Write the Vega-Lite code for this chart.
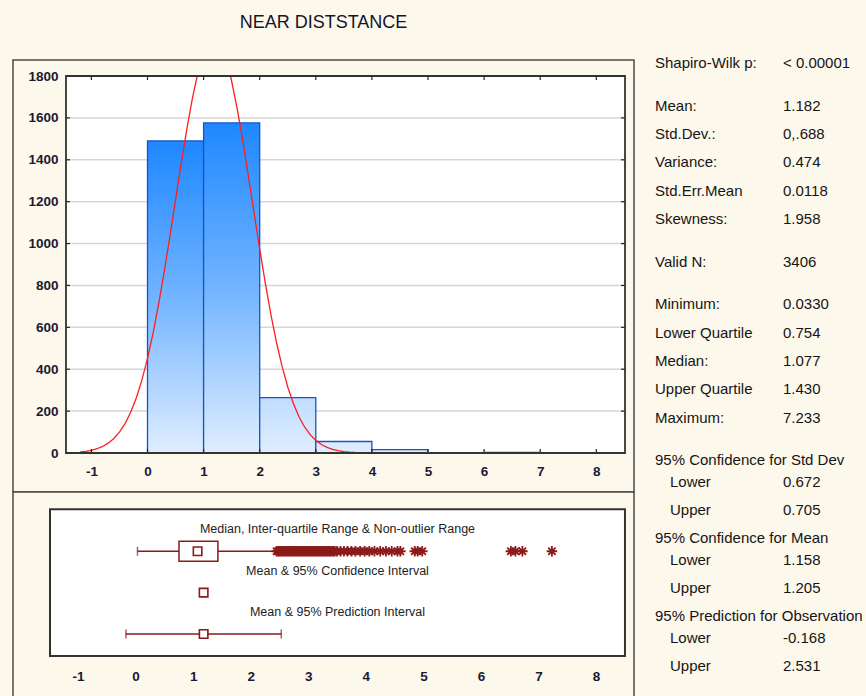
{
  "$schema": "https://vega.github.io/schema/vega-lite/v6.json",
  "background": "#FDF8EC",
  "padding": {"left": 12, "top": 13, "right": 0, "bottom": 0},
  "config": {
    "view": {"stroke": null},
    "font": "Liberation Sans",
    "axis": {"domain": false, "ticks": false, "grid": false, "labelFontSize": 13.5, "labelFontWeight": "bold", "labelColor": "#1a1a33", "labelFont": "Liberation Sans", "labelFlush": false, "labelOverlap": false, "labelExpr": "'' + datum.value"}
  },
  "bounds": "flush",
  "columns": 2,
  "spacing": {"row": 0, "column": 11},
  "concat": [
    {
      "width": 621,
      "height": 432,
      "view": {"stroke": "#4a4a4a", "strokeWidth": 1.5, "fill": "#FDF8EC"},
      "title": {"text": "NEAR DISTSTANCE", "fontSize": 18, "fontWeight": "normal", "font": "Liberation Sans", "color": "#15152a", "anchor": "middle", "baseline": "alphabetic", "offset": 14},
      "layer": [
        {
          "data": {"values": [{}]},
          "mark": {"type": "rect", "fill": "white"},
          "encoding": {
            "x": {"datum": -1.453, "type": "quantitative", "scale": {"domain": [-2.3975, 8.672], "nice": false, "zero": false}, "axis": {"values": [-1, 0, 1, 2, 3, 4, 5, 6, 7, 8], "offset": -39, "labelPadding": 11, "title": null}},
            "x2": {"datum": 8.512},
            "y": {"datum": 0, "type": "quantitative", "scale": {"domain": [-186.2, 1876.4], "nice": false, "zero": false}, "axis": {"values": [0, 200, 400, 600, 800, 1000, 1200, 1400, 1600, 1800], "offset": -53, "labelPadding": 8, "title": null}},
            "y2": {"datum": 1800}
          }
        },
        {
          "data": {"values": [{"g": 200}, {"g": 400}, {"g": 600}, {"g": 800}, {"g": 1000}, {"g": 1200}, {"g": 1400}, {"g": 1600}]},
          "mark": {"type": "rule", "color": "#d6d6d6", "strokeWidth": 1.5},
          "encoding": {
            "y": {"field": "g", "type": "quantitative", "scale": {"domain": [-186.2, 1876.4], "nice": false, "zero": false}, "axis": {"values": [0, 200, 400, 600, 800, 1000, 1200, 1400, 1600, 1800], "offset": -53, "labelPadding": 8, "title": null}},
            "x": {"datum": -1.453, "type": "quantitative", "scale": {"domain": [-2.3975, 8.672], "nice": false, "zero": false}, "axis": {"values": [-1, 0, 1, 2, 3, 4, 5, 6, 7, 8], "offset": -39, "labelPadding": 11, "title": null}},
            "x2": {"datum": 8.512}
          }
        },
        {
          "data": {"name": "bins", "values": [
            {"lo": 0, "hi": 1, "count": 1490},
            {"lo": 1, "hi": 2, "count": 1576},
            {"lo": 2, "hi": 3, "count": 264},
            {"lo": 3, "hi": 4, "count": 55},
            {"lo": 4, "hi": 5, "count": 16},
            {"lo": 6, "hi": 7, "count": 3},
            {"lo": 7, "hi": 8, "count": 1}
          ]},
          "transform": [{"filter": "datum.count > 1000"}],
          "mark": {"type": "rect", "stroke": "#1454C8", "strokeWidth": 1.3,
            "fill": {"gradient": "linear", "x1": 0, "y1": 0, "x2": 0, "y2": 1, "stops": [{"offset": 0, "color": "#1E88FF"}, {"offset": 0.5, "color": "#72B4FF"}, {"offset": 1, "color": "#E0EEFF"}]}},
          "encoding": {
            "x": {"field": "lo", "type": "quantitative", "scale": {"domain": [-2.3975, 8.672], "nice": false, "zero": false}, "axis": {"values": [-1, 0, 1, 2, 3, 4, 5, 6, 7, 8], "offset": -39, "labelPadding": 11, "title": null}},
            "x2": {"field": "hi"},
            "y": {"field": "count", "type": "quantitative", "scale": {"domain": [-186.2, 1876.4], "nice": false, "zero": false}, "axis": {"values": [0, 200, 400, 600, 800, 1000, 1200, 1400, 1600, 1800], "offset": -53, "labelPadding": 8, "title": null}},
            "y2": {"datum": 0}
          }
        },
        {
          "data": {"name": "bins"},
          "transform": [{"filter": "datum.count > 100 && datum.count <= 1000"}],
          "mark": {"type": "rect", "stroke": "#1454C8", "strokeWidth": 1.3,
            "fill": {"gradient": "linear", "x1": 0, "y1": 0, "x2": 0, "y2": 1, "stops": [{"offset": 0, "color": "#C0DDFF"}, {"offset": 1, "color": "#E0EEFF"}]}},
          "encoding": {
            "x": {"field": "lo", "type": "quantitative", "scale": {"domain": [-2.3975, 8.672], "nice": false, "zero": false}, "axis": {"values": [-1, 0, 1, 2, 3, 4, 5, 6, 7, 8], "offset": -39, "labelPadding": 11, "title": null}},
            "x2": {"field": "hi"},
            "y": {"field": "count", "type": "quantitative", "scale": {"domain": [-186.2, 1876.4], "nice": false, "zero": false}, "axis": {"values": [0, 200, 400, 600, 800, 1000, 1200, 1400, 1600, 1800], "offset": -53, "labelPadding": 8, "title": null}},
            "y2": {"datum": 0}
          }
        },
        {
          "data": {"name": "bins"},
          "transform": [{"filter": "datum.count <= 100"}],
          "mark": {"type": "rect", "stroke": "#1454C8", "strokeWidth": 1.3, "fill": "#DCEBFF"},
          "encoding": {
            "x": {"field": "lo", "type": "quantitative", "scale": {"domain": [-2.3975, 8.672], "nice": false, "zero": false}, "axis": {"values": [-1, 0, 1, 2, 3, 4, 5, 6, 7, 8], "offset": -39, "labelPadding": 11, "title": null}},
            "x2": {"field": "hi"},
            "y": {"field": "count", "type": "quantitative", "scale": {"domain": [-186.2, 1876.4], "nice": false, "zero": false}, "axis": {"values": [0, 200, 400, 600, 800, 1000, 1200, 1400, 1600, 1800], "offset": -53, "labelPadding": 8, "title": null}},
            "y2": {"datum": 0}
          }
        },
        {
          "data": {"values": [
            {"seg": "a", "x": -1.2, "y": 4.9}, {"seg": "a", "x": -1.1, "y": 8.1}, {"seg": "a", "x": -1.0, "y": 12.9}, {"seg": "a", "x": -0.9, "y": 20.3},
            {"seg": "a", "x": -0.8, "y": 31.2}, {"seg": "a", "x": -0.7, "y": 46.9}, {"seg": "a", "x": -0.6, "y": 69.0}, {"seg": "a", "x": -0.5, "y": 99.5},
            {"seg": "a", "x": -0.4, "y": 140.4}, {"seg": "a", "x": -0.3, "y": 194.1}, {"seg": "a", "x": -0.2, "y": 262.7}, {"seg": "a", "x": -0.1, "y": 348.0},
            {"seg": "a", "x": 0.0, "y": 451.5}, {"seg": "a", "x": 0.1, "y": 573.4}, {"seg": "a", "x": 0.2, "y": 713.0}, {"seg": "a", "x": 0.3, "y": 868.4},
            {"seg": "a", "x": 0.4, "y": 1035.3}, {"seg": "a", "x": 0.5, "y": 1208.3}, {"seg": "a", "x": 0.6, "y": 1380.9}, {"seg": "a", "x": 0.7, "y": 1545.2},
            {"seg": "a", "x": 0.8, "y": 1693.0}, {"seg": "a", "x": 0.886, "y": 1800},
            {"seg": "b", "x": 1.478, "y": 1800}, {"seg": "b", "x": 1.5, "y": 1774.9}, {"seg": "b", "x": 1.6, "y": 1642.0}, {"seg": "b", "x": 1.7, "y": 1487.6},
            {"seg": "b", "x": 1.8, "y": 1319.3}, {"seg": "b", "x": 1.9, "y": 1145.7}, {"seg": "b", "x": 2.0, "y": 974.1}, {"seg": "b", "x": 2.1, "y": 810.9},
            {"seg": "b", "x": 2.2, "y": 660.8}, {"seg": "b", "x": 2.3, "y": 527.5}, {"seg": "b", "x": 2.4, "y": 412.2}, {"seg": "b", "x": 2.5, "y": 315.2},
            {"seg": "b", "x": 2.6, "y": 236.0}, {"seg": "b", "x": 2.7, "y": 173.1}, {"seg": "b", "x": 2.8, "y": 124.4}, {"seg": "b", "x": 2.9, "y": 87.4},
            {"seg": "b", "x": 3.0, "y": 60.2}, {"seg": "b", "x": 3.1, "y": 40.5}, {"seg": "b", "x": 3.2, "y": 26.8}, {"seg": "b", "x": 3.3, "y": 17.3},
            {"seg": "b", "x": 3.4, "y": 10.9}, {"seg": "b", "x": 3.5, "y": 6.8}, {"seg": "b", "x": 3.6, "y": 4.1}, {"seg": "b", "x": 3.7, "y": 2.4}
          ]},
          "mark": {"type": "line", "color": "#FF1E1E", "strokeWidth": 1.3},
          "encoding": {
            "x": {"field": "x", "type": "quantitative", "scale": {"domain": [-2.3975, 8.672], "nice": false, "zero": false}, "axis": {"values": [-1, 0, 1, 2, 3, 4, 5, 6, 7, 8], "offset": -39, "labelPadding": 11, "title": null}},
            "y": {"field": "y", "type": "quantitative", "scale": {"domain": [-186.2, 1876.4], "nice": false, "zero": false}, "axis": {"values": [0, 200, 400, 600, 800, 1000, 1200, 1400, 1600, 1800], "offset": -53, "labelPadding": 8, "title": null}},
            "detail": {"field": "seg"}
          }
        },
        {
          "data": {"name": "xt", "values": [{"t": -1}, {"t": 0}, {"t": 1}, {"t": 2}, {"t": 3}, {"t": 4}, {"t": 5}, {"t": 6}, {"t": 7}, {"t": 8}]},
          "mark": {"type": "rule", "color": "#222222", "strokeWidth": 1.2},
          "encoding": {
            "x": {"field": "t", "type": "quantitative", "scale": {"domain": [-2.3975, 8.672], "nice": false, "zero": false}, "axis": {"values": [-1, 0, 1, 2, 3, 4, 5, 6, 7, 8], "offset": -39, "labelPadding": 11, "title": null}},
            "y": {"datum": 0, "type": "quantitative", "scale": {"domain": [-186.2, 1876.4], "nice": false, "zero": false}, "axis": {"values": [0, 200, 400, 600, 800, 1000, 1200, 1400, 1600, 1800], "offset": -53, "labelPadding": 8, "title": null}},
            "y2": {"datum": 19}
          }
        },
        {
          "data": {"name": "xt"},
          "mark": {"type": "rule", "color": "#222222", "strokeWidth": 1.2},
          "encoding": {
            "x": {"field": "t", "type": "quantitative", "scale": {"domain": [-2.3975, 8.672], "nice": false, "zero": false}, "axis": {"values": [-1, 0, 1, 2, 3, 4, 5, 6, 7, 8], "offset": -39, "labelPadding": 11, "title": null}},
            "y": {"datum": 1781, "type": "quantitative", "scale": {"domain": [-186.2, 1876.4], "nice": false, "zero": false}, "axis": {"values": [0, 200, 400, 600, 800, 1000, 1200, 1400, 1600, 1800], "offset": -53, "labelPadding": 8, "title": null}},
            "y2": {"datum": 1800}
          }
        },
        {
          "data": {"name": "yt", "values": [{"g": 200}, {"g": 400}, {"g": 600}, {"g": 800}, {"g": 1000}, {"g": 1200}, {"g": 1400}, {"g": 1600}]},
          "mark": {"type": "rule", "color": "#222222", "strokeWidth": 1.2},
          "encoding": {
            "y": {"field": "g", "type": "quantitative", "scale": {"domain": [-186.2, 1876.4], "nice": false, "zero": false}, "axis": {"values": [0, 200, 400, 600, 800, 1000, 1200, 1400, 1600, 1800], "offset": -53, "labelPadding": 8, "title": null}},
            "x": {"datum": -1.453, "type": "quantitative", "scale": {"domain": [-2.3975, 8.672], "nice": false, "zero": false}, "axis": {"values": [-1, 0, 1, 2, 3, 4, 5, 6, 7, 8], "offset": -39, "labelPadding": 11, "title": null}},
            "x2": {"datum": -1.382}
          }
        },
        {
          "data": {"name": "yt"},
          "mark": {"type": "rule", "color": "#222222", "strokeWidth": 1.2},
          "encoding": {
            "y": {"field": "g", "type": "quantitative", "scale": {"domain": [-186.2, 1876.4], "nice": false, "zero": false}, "axis": {"values": [0, 200, 400, 600, 800, 1000, 1200, 1400, 1600, 1800], "offset": -53, "labelPadding": 8, "title": null}},
            "x": {"datum": 8.441, "type": "quantitative", "scale": {"domain": [-2.3975, 8.672], "nice": false, "zero": false}, "axis": {"values": [-1, 0, 1, 2, 3, 4, 5, 6, 7, 8], "offset": -39, "labelPadding": 11, "title": null}},
            "x2": {"datum": 8.512}
          }
        },
        {
          "data": {"values": [{}]},
          "mark": {"type": "rect", "filled": false, "color": "#333333", "strokeWidth": 1.8},
          "encoding": {
            "x": {"datum": -1.453, "type": "quantitative", "scale": {"domain": [-2.3975, 8.672], "nice": false, "zero": false}, "axis": {"values": [-1, 0, 1, 2, 3, 4, 5, 6, 7, 8], "offset": -39, "labelPadding": 11, "title": null}},
            "x2": {"datum": 8.512},
            "y": {"datum": 0, "type": "quantitative", "scale": {"domain": [-186.2, 1876.4], "nice": false, "zero": false}, "axis": {"values": [0, 200, 400, 600, 800, 1000, 1200, 1400, 1600, 1800], "offset": -53, "labelPadding": 8, "title": null}},
            "y2": {"datum": 1800}
          }
        }
      ]
    },
    {
      "width": 221,
      "height": 432,
      "view": {"stroke": null, "fill": null},
      "data": {"values": [
        {"label": "Shapiro-Wilk p:", "value": "< 0.00001", "line": 0, "indent": false},
        {"label": "Mean:", "value": "1.182", "line": 3, "indent": false},
        {"label": "Std.Dev.:", "value": "0,.688", "line": 5, "indent": false},
        {"label": "Variance:", "value": "0.474", "line": 7, "indent": false},
        {"label": "Std.Err.Mean", "value": "0.0118", "line": 9, "indent": false},
        {"label": "Skewness:", "value": "1.958", "line": 11, "indent": false},
        {"label": "Valid N:", "value": "3406", "line": 14, "indent": false},
        {"label": "Minimum:", "value": "0.0330", "line": 17, "indent": false},
        {"label": "Lower Quartile", "value": "0.754", "line": 19, "indent": false},
        {"label": "Median:", "value": "1.077", "line": 21, "indent": false},
        {"label": "Upper Quartile", "value": "1.430", "line": 23, "indent": false},
        {"label": "Maximum:", "value": "7.233", "line": 25, "indent": false},
        {"label": "95% Confidence for Std Dev", "value": "", "line": 28, "indent": false},
        {"label": "Lower", "value": "0.672", "line": 29.5, "indent": true},
        {"label": "Upper", "value": "0.705", "line": 31.5, "indent": true},
        {"label": "95% Confidence for Mean", "value": "", "line": 33.5, "indent": false},
        {"label": "Lower", "value": "1.158", "line": 35, "indent": true},
        {"label": "Upper", "value": "1.205", "line": 37, "indent": true},
        {"label": "95% Prediction for Observation", "value": "", "line": 39, "indent": false},
        {"label": "Lower", "value": "-0.168", "line": 40.5, "indent": true},
        {"label": "Upper", "value": "2.531", "line": 42.5, "indent": true}
      ]},
      "layer": [
        {
          "transform": [{"filter": "!datum.indent"}],
          "mark": {"type": "text", "align": "left", "baseline": "middle", "fontSize": 15, "font": "Liberation Sans", "color": "#151515"},
          "encoding": {
            "x": {"datum": 10, "type": "quantitative", "scale": {"domain": [0, 221], "nice": false, "zero": false}, "axis": null},
            "y": {"field": "line", "type": "quantitative", "scale": {"domain": [-0.211, 30.233], "reverse": true, "nice": false, "zero": false}, "axis": null},
            "text": {"field": "label"}
          }
        },
        {
          "transform": [{"filter": "datum.indent"}],
          "mark": {"type": "text", "align": "left", "baseline": "middle", "fontSize": 15, "font": "Liberation Sans", "color": "#151515"},
          "encoding": {
            "x": {"datum": 25, "type": "quantitative", "scale": {"domain": [0, 221], "nice": false, "zero": false}, "axis": null},
            "y": {"field": "line", "type": "quantitative", "scale": {"domain": [-0.211, 30.233], "reverse": true, "nice": false, "zero": false}, "axis": null},
            "text": {"field": "label"}
          }
        },
        {
          "mark": {"type": "text", "align": "left", "baseline": "middle", "fontSize": 15, "font": "Liberation Sans", "color": "#151515"},
          "encoding": {
            "x": {"datum": 138, "type": "quantitative", "scale": {"domain": [0, 221], "nice": false, "zero": false}, "axis": null},
            "y": {"field": "line", "type": "quantitative", "scale": {"domain": [-0.211, 30.233], "reverse": true, "nice": false, "zero": false}, "axis": null},
            "text": {"field": "value"}
          }
        }
      ]
    },
    {
      "width": 621,
      "height": 206,
      "view": {"stroke": "#4a4a4a", "strokeWidth": 1.5, "fill": "#FDF8EC"},
      "layer": [
        {
          "data": {"values": [{}]},
          "mark": {"type": "rect", "fill": "white"},
          "encoding": {
            "x": {"datum": -1.487, "type": "quantitative", "scale": {"domain": [-2.13, 8.659], "nice": false, "zero": false}, "axis": {"values": [-1, 0, 1, 2, 3, 4, 5, 6, 7, 8], "offset": -39, "labelPadding": 10, "title": null}},
            "x2": {"datum": 8.502},
            "y": {"datum": 0.4713, "type": "quantitative", "scale": {"domain": [-0.4253, 4.3103], "nice": false, "zero": false}, "axis": null},
            "y2": {"datum": 4.0115}
          }
        },
        {
          "data": {"name": "summary", "values": [
            {"row": 3, "title": "Median, Inter-quartile Range & Non-outlier Range", "center": 1.077, "lo": 0.033, "hi": 2.444, "boxLo": 0.754, "boxHi": 1.43},
            {"row": 2, "title": "Mean & 95% Confidence Interval", "center": 1.182, "lo": 1.158, "hi": 1.205},
            {"row": 1, "title": "Mean & 95% Prediction Interval", "center": 1.182, "lo": -0.168, "hi": 2.531}
          ]},
          "mark": {"type": "rule", "color": "#8B1A1A", "strokeWidth": 1.5},
          "encoding": {
            "x": {"field": "lo", "type": "quantitative", "scale": {"domain": [-2.13, 8.659], "nice": false, "zero": false}, "axis": {"values": [-1, 0, 1, 2, 3, 4, 5, 6, 7, 8], "offset": -39, "labelPadding": 10, "title": null}},
            "x2": {"field": "hi"},
            "y": {"field": "row", "type": "quantitative", "scale": {"domain": [-0.4253, 4.3103], "nice": false, "zero": false}, "axis": null}
          }
        },
        {
          "data": {"name": "summary"},
          "mark": {"type": "tick", "orient": "vertical", "color": "#8B1A1A", "size": 9, "thickness": 1.5},
          "encoding": {
            "x": {"field": "lo", "type": "quantitative", "scale": {"domain": [-2.13, 8.659], "nice": false, "zero": false}, "axis": {"values": [-1, 0, 1, 2, 3, 4, 5, 6, 7, 8], "offset": -39, "labelPadding": 10, "title": null}},
            "y": {"field": "row", "type": "quantitative", "scale": {"domain": [-0.4253, 4.3103], "nice": false, "zero": false}, "axis": null}
          }
        },
        {
          "data": {"name": "summary"},
          "mark": {"type": "tick", "orient": "vertical", "color": "#8B1A1A", "size": 9, "thickness": 1.5},
          "encoding": {
            "x": {"field": "hi", "type": "quantitative", "scale": {"domain": [-2.13, 8.659], "nice": false, "zero": false}, "axis": {"values": [-1, 0, 1, 2, 3, 4, 5, 6, 7, 8], "offset": -39, "labelPadding": 10, "title": null}},
            "y": {"field": "row", "type": "quantitative", "scale": {"domain": [-0.4253, 4.3103], "nice": false, "zero": false}, "axis": null}
          }
        },
        {
          "data": {"name": "summary"},
          "transform": [{"filter": "isValid(datum.boxLo)"}],
          "mark": {"type": "bar", "orient": "horizontal", "size": 20, "fill": "white", "stroke": "#8B1A1A", "strokeWidth": 1.5},
          "encoding": {
            "x": {"field": "boxLo", "type": "quantitative", "scale": {"domain": [-2.13, 8.659], "nice": false, "zero": false}, "axis": {"values": [-1, 0, 1, 2, 3, 4, 5, 6, 7, 8], "offset": -39, "labelPadding": 10, "title": null}},
            "x2": {"field": "boxHi"},
            "y": {"field": "row", "type": "quantitative", "scale": {"domain": [-0.4253, 4.3103], "nice": false, "zero": false}, "axis": null}
          }
        },
        {
          "data": {"name": "summary"},
          "mark": {"type": "point", "shape": "square", "filled": true, "fill": "white", "stroke": "#8B1A1A", "strokeWidth": 1.6, "size": 72, "opacity": 1},
          "encoding": {
            "x": {"field": "center", "type": "quantitative", "scale": {"domain": [-2.13, 8.659], "nice": false, "zero": false}, "axis": {"values": [-1, 0, 1, 2, 3, 4, 5, 6, 7, 8], "offset": -39, "labelPadding": 10, "title": null}},
            "y": {"field": "row", "type": "quantitative", "scale": {"domain": [-0.4253, 4.3103], "nice": false, "zero": false}, "axis": null}
          }
        },
        {
          "data": {"values": [
            {"v": 2.45}, {"v": 2.475}, {"v": 2.5}, {"v": 2.525}, {"v": 2.55}, {"v": 2.575}, {"v": 2.6}, {"v": 2.625}, {"v": 2.65}, {"v": 2.675},
            {"v": 2.7}, {"v": 2.725}, {"v": 2.75}, {"v": 2.775}, {"v": 2.8}, {"v": 2.825}, {"v": 2.85}, {"v": 2.875}, {"v": 2.9}, {"v": 2.925},
            {"v": 2.95}, {"v": 2.975}, {"v": 3.0}, {"v": 3.025}, {"v": 3.05}, {"v": 3.075}, {"v": 3.1}, {"v": 3.125}, {"v": 3.15}, {"v": 3.175},
            {"v": 3.2}, {"v": 3.225}, {"v": 3.25}, {"v": 3.275}, {"v": 3.3}, {"v": 3.325}, {"v": 3.35}, {"v": 3.375}, {"v": 3.4}, {"v": 3.43},
            {"v": 3.46}, {"v": 3.5}, {"v": 3.56}, {"v": 3.62}, {"v": 3.68}, {"v": 3.75}, {"v": 3.82}, {"v": 3.9}, {"v": 3.98}, {"v": 4.06},
            {"v": 4.15}, {"v": 4.25}, {"v": 4.35}, {"v": 4.45}, {"v": 4.55}, {"v": 4.6}, {"v": 4.85}, {"v": 4.9}, {"v": 4.98},
            {"v": 6.52}, {"v": 6.6}, {"v": 6.72}, {"v": 7.233}
          ]},
          "mark": {"type": "point", "shape": "M-1,0H1M0,-1V1M-0.7,-0.7L0.7,0.7M-0.7,0.7L0.7,-0.7", "size": 110, "filled": false, "color": "#8B1A1A", "strokeWidth": 1.8, "opacity": 1},
          "encoding": {
            "x": {"field": "v", "type": "quantitative", "scale": {"domain": [-2.13, 8.659], "nice": false, "zero": false}, "axis": {"values": [-1, 0, 1, 2, 3, 4, 5, 6, 7, 8], "offset": -39, "labelPadding": 10, "title": null}},
            "y": {"datum": 3, "type": "quantitative", "scale": {"domain": [-0.4253, 4.3103], "nice": false, "zero": false}, "axis": null}
          }
        },
        {
          "data": {"name": "summary"},
          "mark": {"type": "text", "align": "center", "baseline": "middle", "dy": -22, "fontSize": 12.5, "font": "Liberation Sans", "color": "#222222"},
          "encoding": {
            "x": {"datum": 3.5075, "type": "quantitative", "scale": {"domain": [-2.13, 8.659], "nice": false, "zero": false}, "axis": {"values": [-1, 0, 1, 2, 3, 4, 5, 6, 7, 8], "offset": -39, "labelPadding": 10, "title": null}},
            "y": {"field": "row", "type": "quantitative", "scale": {"domain": [-0.4253, 4.3103], "nice": false, "zero": false}, "axis": null},
            "text": {"field": "title"}
          }
        },
        {
          "data": {"values": [{}]},
          "mark": {"type": "rect", "filled": false, "color": "#333333", "strokeWidth": 2},
          "encoding": {
            "x": {"datum": -1.487, "type": "quantitative", "scale": {"domain": [-2.13, 8.659], "nice": false, "zero": false}, "axis": {"values": [-1, 0, 1, 2, 3, 4, 5, 6, 7, 8], "offset": -39, "labelPadding": 10, "title": null}},
            "x2": {"datum": 8.502},
            "y": {"datum": 0.4713, "type": "quantitative", "scale": {"domain": [-0.4253, 4.3103], "nice": false, "zero": false}, "axis": null},
            "y2": {"datum": 4.0115}
          }
        }
      ]
    }
  ]
}
